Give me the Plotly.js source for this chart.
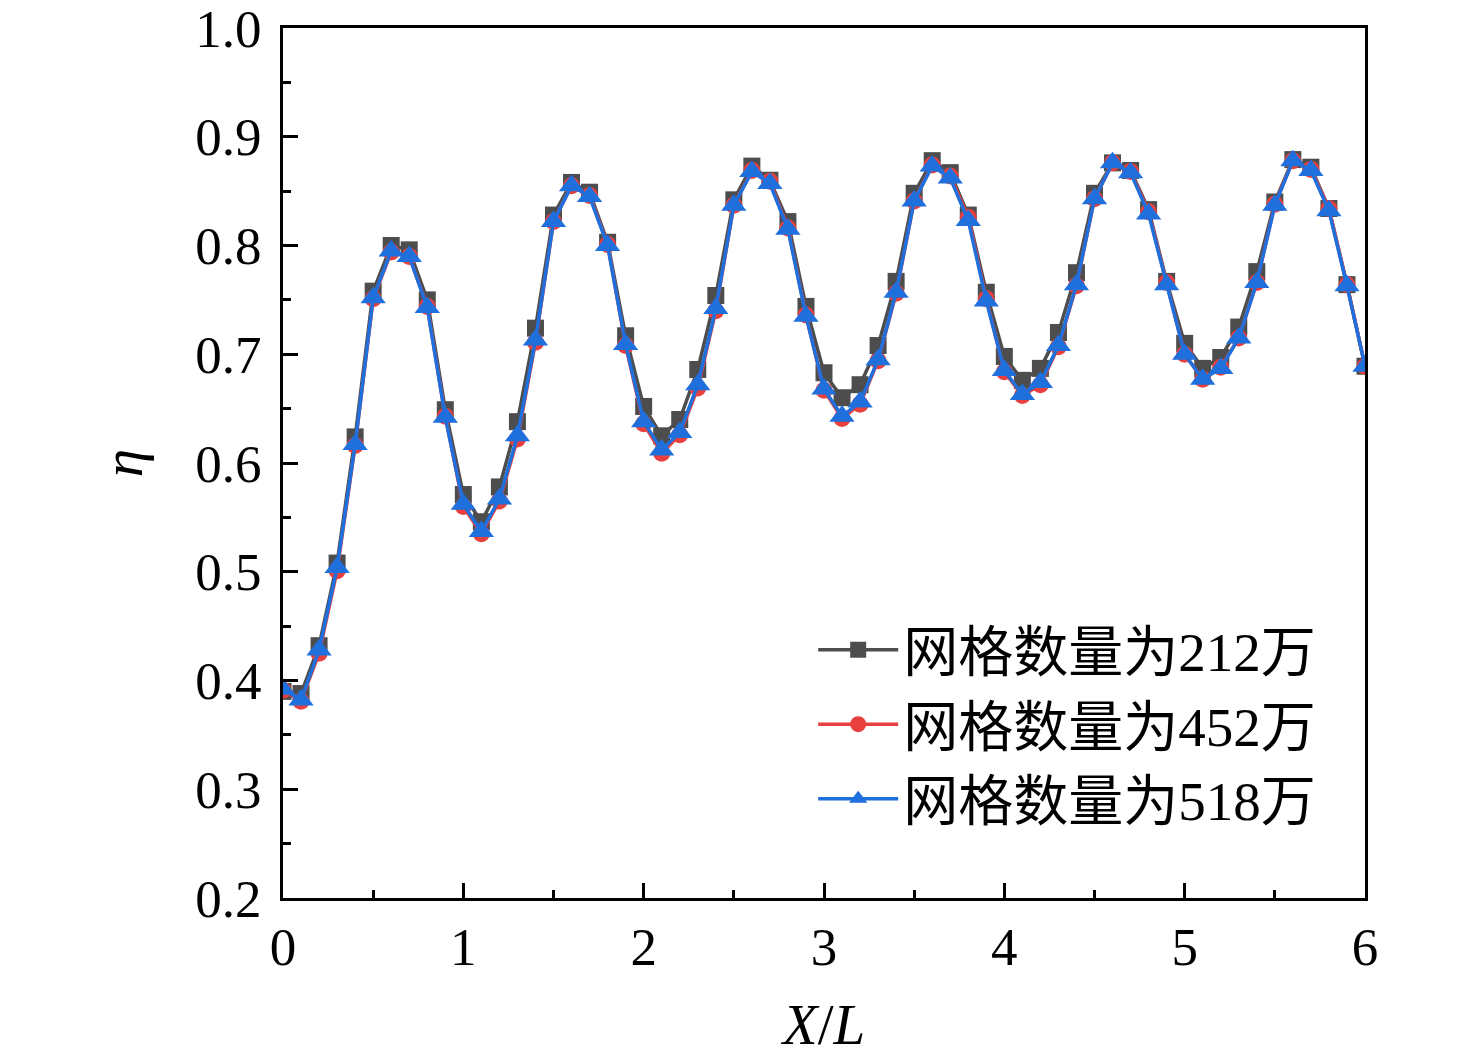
<!DOCTYPE html>
<html>
<head>
<meta charset="utf-8">
<script src="https://cdn.plot.ly/plotly-3.0.1.min.js"></script>
<style>
  html, body { margin: 0; padding: 0; background: #fff; }
  #chart { width: 1476px; height: 1057px; }
</style>
</head>
<body>
<div id="chart"></div>
<script>
// X/L positions, 0 to 6 every 0.1
let xPos = [
    0.0, 0.1, 0.2, 0.3, 0.4, 0.5, 0.6, 0.7, 0.8, 0.9,
    1.0, 1.1, 1.2, 1.3, 1.4, 1.5, 1.6, 1.7, 1.8, 1.9,
    2.0, 2.1, 2.2, 2.3, 2.4, 2.5, 2.6, 2.7, 2.8, 2.9,
    3.0, 3.1, 3.2, 3.3, 3.4, 3.5, 3.6, 3.7, 3.8, 3.9,
    4.0, 4.1, 4.2, 4.3, 4.4, 4.5, 4.6, 4.7, 4.8, 4.9,
    5.0, 5.1, 5.2, 5.3, 5.4, 5.5, 5.6, 5.7, 5.8, 5.9,
    6.0
];

// eta, mesh 2.12 million
let eta212 = [
    0.390, 0.388, 0.432, 0.508, 0.624, 0.758, 0.800, 0.796, 0.750, 0.649,
    0.571, 0.546, 0.578, 0.638, 0.724, 0.828, 0.858, 0.849, 0.803, 0.717,
    0.652, 0.625, 0.640, 0.686, 0.754, 0.842, 0.873, 0.860, 0.822, 0.744,
    0.683, 0.660, 0.672, 0.708, 0.767, 0.848, 0.878, 0.867, 0.828, 0.757,
    0.698, 0.676, 0.687, 0.720, 0.775, 0.848, 0.876, 0.869, 0.833, 0.767,
    0.710, 0.687, 0.697, 0.725, 0.776, 0.840, 0.879, 0.872, 0.834, 0.764,
    0.689
];

// eta, mesh 4.52 million
let eta452 = [
    0.391, 0.381, 0.425, 0.501, 0.616, 0.751, 0.794, 0.790, 0.744, 0.643,
    0.560, 0.535, 0.565, 0.622, 0.711, 0.822, 0.855, 0.846, 0.801, 0.708,
    0.636, 0.609, 0.626, 0.669, 0.740, 0.837, 0.869, 0.859, 0.816, 0.736,
    0.667, 0.641, 0.654, 0.694, 0.756, 0.841, 0.874, 0.864, 0.826, 0.751,
    0.684, 0.662, 0.672, 0.707, 0.763, 0.843, 0.876, 0.868, 0.831, 0.766,
    0.700, 0.677, 0.688, 0.715, 0.766, 0.838, 0.878, 0.870, 0.834, 0.764,
    0.689
];

// eta, mesh 5.18 million
let eta518 = [
    0.392, 0.382, 0.428, 0.504, 0.617, 0.752, 0.795, 0.790, 0.743, 0.642,
    0.562, 0.537, 0.567, 0.625, 0.713, 0.822, 0.855, 0.845, 0.800, 0.709,
    0.638, 0.612, 0.628, 0.672, 0.742, 0.837, 0.868, 0.857, 0.815, 0.735,
    0.668, 0.643, 0.656, 0.695, 0.757, 0.841, 0.873, 0.862, 0.823, 0.749,
    0.685, 0.663, 0.674, 0.708, 0.764, 0.843, 0.876, 0.867, 0.829, 0.764,
    0.700, 0.677, 0.687, 0.715, 0.766, 0.837, 0.878, 0.869, 0.832, 0.763,
    0.689
];

let seriesNames = ["网格数量为212万", "网格数量为452万", "网格数量为518万"];

const serif = "'Liberation Serif', 'Times New Roman', 'Noto Sans CJK SC', serif";

function makeTrace(y, name, color, symbol, size) {
    return {
        x: xPos,
        y: y,
        name: name,
        type: "scatter",
        mode: "lines+markers",
        line: { color: color, width: 3.5 },
        marker: { color: color, symbol: symbol, size: size }
    };
}

let traces = [
    makeTrace(eta212, seriesNames[0], "#4d4d4d", "square", 17),
    makeTrace(eta452, seriesNames[1], "#e8403f", "circle", 17),
    makeTrace(eta518, seriesNames[2], "#1f6fdc", "triangle-up", 22)
];

let axisCommon = {
    showline: true,
    linecolor: "#000",
    linewidth: 3,
    mirror: true,
    ticks: "inside",
    ticklen: 15,
    tickwidth: 3,
    tickcolor: "#000",
    showgrid: false,
    zeroline: false,
    ticklabeloverflow: "allow",
    tickfont: { family: serif, size: 53, color: "#000" }
};

let layout = {
    width: 1476,
    height: 1057,
    margin: { l: 283, r: 111, t: 28, b: 159 },
    paper_bgcolor: "#fff",
    plot_bgcolor: "#fff",
    showlegend: true,
    xaxis: Object.assign({}, axisCommon, {
        range: [0, 6],
        dtick: 1,
        tick0: 0,
        minor: { dtick: 0.5, ticks: "inside", ticklen: 8, tickwidth: 3, tickcolor: "#000" },
        title: { text: "<i>X</i>/<i>L</i>", font: { family: serif, size: 57, color: "#000" }, standoff: 30 }
    }),
    yaxis: Object.assign({}, axisCommon, {
        range: [0.2, 1.0],
        dtick: 0.1,
        tick0: 0.2,
        tickformat: ".1f",
        ticklabelstandoff: 8,
        minor: { dtick: 0.05, ticks: "inside", ticklen: 8, tickwidth: 3, tickcolor: "#000" },
        title: { text: "<i>η</i>", font: { family: serif, size: 57, color: "#000" }, standoff: 35 }
    }),
    legend: {
        x: 0.49,
        y: 0.334,
        xanchor: "left",
        yanchor: "top",
        bgcolor: "rgba(0,0,0,0)",
        font: { family: serif, size: 55, color: "#000" },
        tracegroupgap: 0,
        itemwidth: 80
    }
};

Plotly.newPlot("chart", traces, layout, { staticPlot: true });
</script>
</body>
</html>
